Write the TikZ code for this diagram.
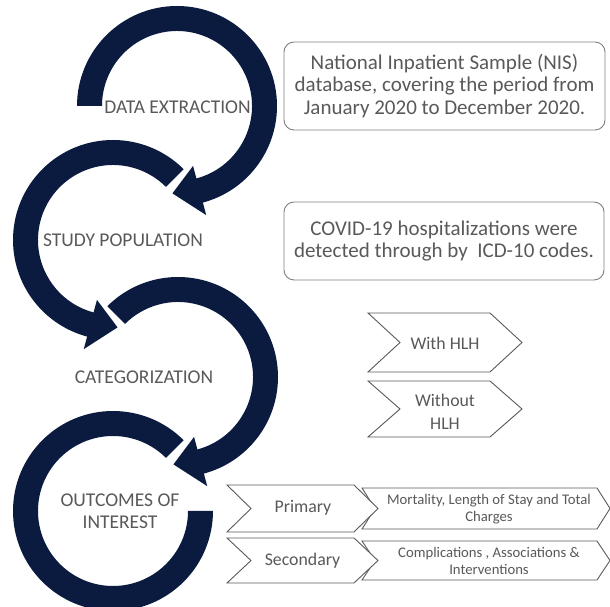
\documentclass[tikz,border=0pt]{standalone}
\usepackage{fontspec}
\setmainfont{Carlito}
\definecolor{navy}{RGB}{11,27,64}
\definecolor{txt}{HTML}{595959}
\definecolor{boxline}{HTML}{7F7F7F}
\definecolor{chevline}{HTML}{5A5A5A}
\newcommand\chevshape[5]{% x1, tip x, ytop, ybot, depth
  \draw[chev] (#1,#3) -- ({#2-#5},#3) -- (#2,{(#3+#4)/2}) -- ({#2-#5},#4) -- (#1,#4) -- ({#1+#5},{(#3+#4)/2}) -- cycle;}
\begin{document}
\begin{tikzpicture}[x=1pt,y=1pt,
  lbl/.style={text=txt,font=\fontsize{19.5}{22}\selectfont,inner sep=0pt,align=center},
  infobox/.style={draw=boxline,line width=0.9pt,rounded corners=10pt,text=txt,
    font=\fontsize{21}{22.5}\selectfont,align=center,inner sep=0pt},
  chev/.style={draw=chevline,line width=0.9pt,fill=white,line join=miter},
  chevtxt/.style={text=txt,font=\fontsize{17.8}{23}\selectfont,align=center,inner sep=0pt},
  smalltxt/.style={text=txt,font=\fontsize{14.7}{16.5}\selectfont,align=center,inner sep=0pt},
  band/.style={fill=navy}]
\useasboundingbox (0,0) rectangle (610,607);
\clip (0,0) rectangle (610,607);
\coordinate (c1) at (177,501);
\coordinate (c2) at (113,367);
\coordinate (c3) at (178,230);
\coordinate (c4) at (113,96);
% arc 1
\fill[band] ([shift={(c1)}]180:100) arc[start angle=180,end angle=-75,radius=100]
  -- ([shift={(c1)}]-75:113) -- ([shift={(c1)}]-93:87.5) -- ([shift={(c1)}]-75:62)
  -- ([shift={(c1)}]-75:75) arc[start angle=-75,end angle=180,radius=75] -- cycle;
% arc 2
\fill[band] ([shift={(c2)}]45:100) arc[start angle=45,end angle=255,radius=100]
  -- ([shift={(c2)}]255:113) -- ([shift={(c2)}]273:87.5) -- ([shift={(c2)}]255:62)
  -- ([shift={(c2)}]255:75) arc[start angle=255,end angle=45,radius=75] -- cycle;
% arc 3
\fill[band] ([shift={(c3)}]135:100) arc[start angle=135,end angle=-75,radius=100]
  -- ([shift={(c3)}]-75:113) -- ([shift={(c3)}]-93:87.5) -- ([shift={(c3)}]-75:62)
  -- ([shift={(c3)}]-75:75) arc[start angle=-75,end angle=135,radius=75] -- cycle;
% arc 4
\fill[band] ([shift={(c4)}]45:100) arc[start angle=45,end angle=360,radius=100]
  -- ([shift={(c4)}]0:75) arc[start angle=360,end angle=45,radius=75] -- cycle;
% labels
\node[lbl] (de) at (177.5,500) {DATA EXTRACTION};
\node[lbl] (sp) at (123,367) {STUDY POPULATION};
\node[lbl] (cat) at (144,230) {CATEGORIZATION};
\node[lbl] (oi) at (120,96) {OUTCOMES OF\\INTEREST};
% info boxes
\node[infobox,minimum width=321pt,minimum height=88pt] (b1) at (444.5,521)
  {National Inpatient Sample (NIS)\\database, covering the period from\\January 2020 to December 2020.};
\node[infobox,minimum width=320pt,minimum height=78pt] (b2) at (444,366)
  {COVID-19 hospitalizations were\\detected through by \ ICD-10 codes.};
% chevrons
\chevshape{368}{522}{294}{235}{32}
\chevshape{368}{522}{226}{170}{32}
\node[chevtxt] (w1) at (445,264) {With HLH};
\node[chevtxt] (w2) at (445,195) {Without\\HLH};
\chevshape{362}{610}{119}{78}{13}
\chevshape{362}{610}{66}{27}{13}
\chevshape{227}{378}{122}{75}{24}
\chevshape{227}{378}{69}{24}{24}
\node[chevtxt] (p1) at (303,99) {Primary};
\node[chevtxt] (p2) at (302.5,46) {Secondary};
\node[smalltxt] (m1) at (489,98) {Mortality, Length of Stay and Total\\Charges};
\node[smalltxt] (m2) at (489,46) {Complications , Associations \&\\Interventions};
\end{tikzpicture}
\end{document}
